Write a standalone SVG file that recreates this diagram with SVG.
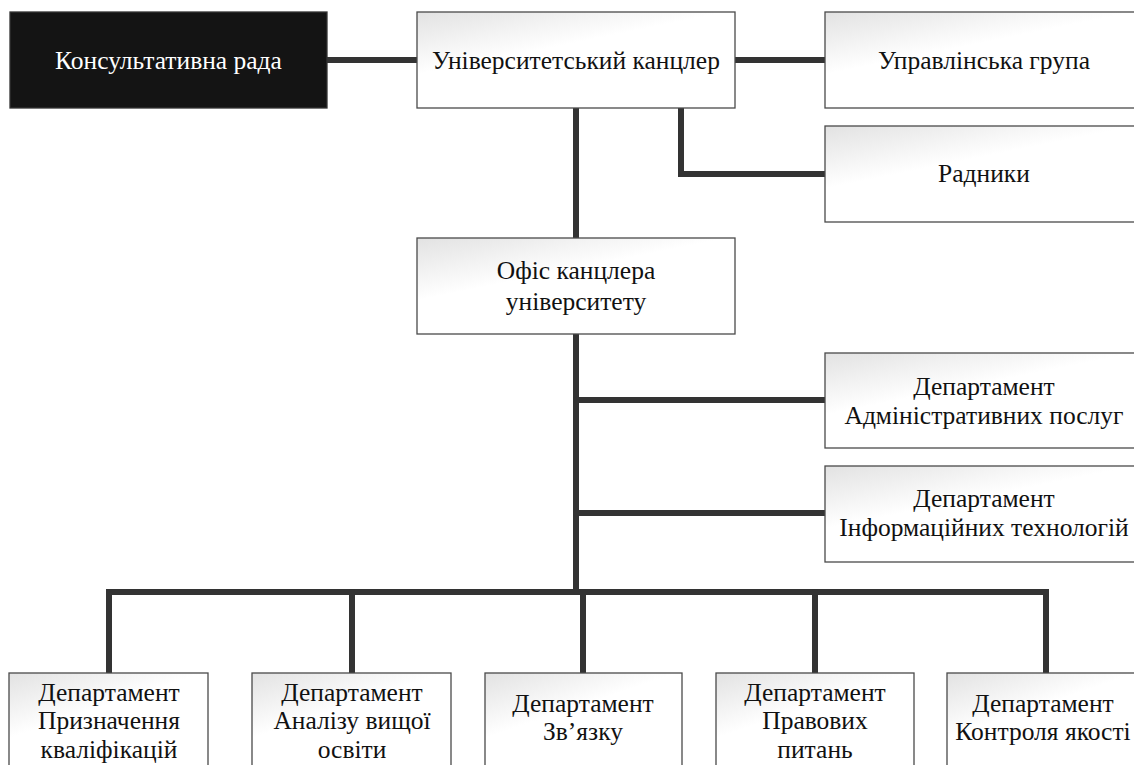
<svg xmlns="http://www.w3.org/2000/svg" width="1134" height="765" viewBox="0 0 1134 765">
<defs>
<linearGradient id="g" x1="0" y1="0" x2="0.3" y2="0.45">
<stop offset="0" stop-color="#e2e2e2"/>
<stop offset="1" stop-color="#ffffff"/>
</linearGradient>
<style>
.box{fill:url(#g);stroke:#4a4a4a;stroke-width:1.3}
.dark{fill:#141414;stroke:#333;stroke-width:1.3}
.t{font-family:"Liberation Serif","Times New Roman",serif;font-size:25.5px;fill:#111;text-anchor:middle}
.tw{fill:#fff}
.c{fill:none;stroke:#333;stroke-width:6;stroke-linejoin:miter;stroke-linecap:round}
</style>
</defs>
<rect width="1134" height="765" fill="#fff"/>
<g id="connectors">
<path class="c" d="M327 60H417"/>
<path class="c" d="M735 60H825"/>
<path class="c" d="M576 108V238"/>
<path class="c" d="M681 108V174H825"/>
<path class="c" d="M576 334V592"/>
<path class="c" d="M576 400H825"/>
<path class="c" d="M576 513H825"/>
<path class="c" d="M109 673V592H1046V673"/>
<path class="c" d="M352 592V673"/>
<path class="c" d="M583 592V673"/>
<path class="c" d="M815 592V673"/>
</g>
<g id="n-consult">
<rect class="dark" x="10" y="12" width="317" height="96"/>
<text class="t tw" x="168.5" y="69">Консультативна рада</text>
</g>
<g id="n-chancellor">
<rect class="box" x="417" y="12" width="318" height="96"/>
<text class="t" x="576" y="69">Університетський канцлер</text>
</g>
<g id="n-mgmt">
<rect class="box" x="825" y="12" width="318" height="96"/>
<text class="t" x="984" y="69">Управлінська група</text>
</g>
<g id="n-advisors">
<rect class="box" x="825" y="126" width="318" height="96"/>
<text class="t" x="984" y="182">Радники</text>
</g>
<g id="n-office">
<rect class="box" x="417" y="238" width="318" height="96"/>
<text class="t" x="576" y="279">Офіс канцлера</text>
<text class="t" x="576" y="310">університету</text>
</g>
<g id="n-admin">
<rect class="box" x="825" y="353" width="318" height="95"/>
<text class="t" x="984" y="395">Департамент</text>
<text class="t" x="984" y="424">Адміністративних послуг</text>
</g>
<g id="n-it">
<rect class="box" x="825" y="466" width="318" height="96"/>
<text class="t" x="984" y="507">Департамент</text>
<text class="t" x="984" y="536">Інформаційних технологій</text>
</g>
<g id="n-qual">
<rect class="box" x="9" y="673" width="199" height="100"/>
<text class="t" x="109" y="701">Департамент</text>
<text class="t" x="109" y="729">Призначення</text>
<text class="t" x="109" y="758">кваліфікацій</text>
</g>
<g id="n-analysis">
<rect class="box" x="252" y="673" width="199" height="100"/>
<text class="t" x="352" y="701">Департамент</text>
<text class="t" x="352" y="729">Аналізу вищої</text>
<text class="t" x="352" y="758">освіти</text>
</g>
<g id="n-comm">
<rect class="box" x="485" y="673" width="197" height="100"/>
<text class="t" x="583" y="712">Департамент</text>
<text class="t" x="583" y="740">Зв’язку</text>
</g>
<g id="n-legal">
<rect class="box" x="716" y="673" width="198" height="100"/>
<text class="t" x="815" y="701">Департамент</text>
<text class="t" x="815" y="729">Правових</text>
<text class="t" x="815" y="758">питань</text>
</g>
<g id="n-quality">
<rect class="box" x="947" y="673" width="194" height="100"/>
<text class="t" x="1043" y="712">Департамент</text>
<text class="t" x="1043" y="740">Контроля якості</text>
</g>
</svg>
